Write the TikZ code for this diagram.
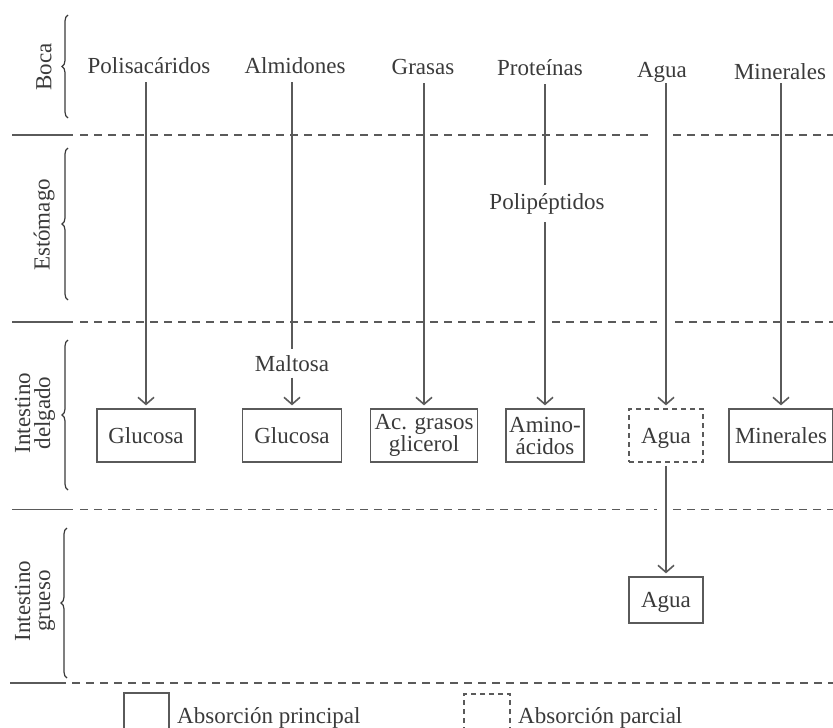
\documentclass[tikz,border=0pt]{standalone}
\usepackage{fontspec}
\setmainfont{Liberation Serif}
\usetikzlibrary{arrows.meta,decorations.pathreplacing}
\definecolor{ink}{HTML}{3A3A3A}
\definecolor{rulegray}{HTML}{5A5A5A}
\begin{document}
\begin{tikzpicture}[x=1pt,y=-1pt,
  every node/.style={text=ink, font=\fontsize{23}{20}\selectfont},
  lbl/.style={inner sep=0pt, anchor=base},
  box/.style={draw=rulegray, line width=1.3pt, minimum height=53pt, inner sep=0pt, align=center,
    font=\fontsize{23}{22}\selectfont},
  partial/.style={box, dash pattern=on 5pt off 4pt},
  flow/.style={draw=rulegray, line width=1.4pt, -{Straight Barb[length=7pt,width=16pt,line width=1.6pt]}, shorten >=3pt},
  stem/.style={draw=rulegray, line width=1.4pt},
  sep/.style={draw=rulegray, line width=1.4pt, dash pattern=on 8pt off 6pt},
  sepsolid/.style={draw=rulegray, line width=1.4pt},
  brc/.style={draw=ink, line width=1.2pt, decorate, decoration={brace, amplitude=6pt}},
  zone/.style={rotate=90, align=center, inner sep=0pt}
]
\clip (0,0) rectangle (833,728);

% horizontal separators between the regions
\foreach \yy in {135,322,509.5} \draw[sepsolid] (12,\yy) -- (73,\yy);
\draw[sepsolid] (10,683) -- (66,683);
\draw[sep] (80,135) -- (653,135);
\draw[sep] (673,135) -- (833,135);
\draw[sep] (80,322) -- (535,322);
\draw[sep] (552,322) -- (657,322);
\draw[sep] (675,322) -- (833,322);
\draw[sep] (80,509.5) -- (657,509.5);
\draw[sep] (673,509.5) -- (833,509.5);
\draw[sep] (72,683) -- (833,683);

% region names with braces
\node[zone] (zboca) at (44,67) {Boca};
\node[zone] (zest) at (44,225) {Estómago};
\node[zone] (zdel) at (35,413) {Intestino\\delgado};
\node[zone] (zgru) at (35,601) {Intestino\\grueso};
\draw[brc] (68,118) -- (68,15);
\draw[brc] (68,300) -- (68,148);
\draw[brc] (68,490) -- (68,340);
\draw[brc] (67,678) -- (67,528);

% nutrients entering by the mouth
\node[lbl] (t1) at (149,73) {Polisacáridos};
\node[lbl] (t2) at (295,73) {Almidones};
\node[lbl] (t3) at (423,74) {Grasas};
\node[lbl] (t4) at (540,75) {Proteínas};
\node[lbl] (t5) at (662,77) {Agua};
\node[lbl] (t6) at (780,79) {Minerales};

% intermediate products
\node[inner sep=0pt, minimum height=37pt] (pp) at (547,203.5) {Polipéptidos};
\node[inner sep=0pt, minimum height=28pt] (mal) at (292,363.5) {Maltosa};

% absorbed products in the small intestine
\node[box, minimum width=98pt] (b1) at (146,435.5) {Glucosa};
\node[box, minimum width=99pt] (b2) at (292,435.5) {Glucosa};
\node[box, minimum width=107pt] (b3) at (424,435.5) {Ac. grasos\\glicerol};
\node[box, minimum width=78pt] (b4) at (545,435.5) {Amino-\\ácidos};
\node[partial, minimum width=74pt, text depth=0pt] (b5) at (666,435.5) {Agua};
\node[box, minimum width=104pt] (b6) at (781,435.5) {Minerales};

% absorbed in the large intestine
\node[box, minimum width=74pt, minimum height=46pt, text depth=0pt] (b7) at (666,600) {Agua};

% digestion paths
\draw[flow, shorten <=9pt] (t1.base -| b1.north) -- (b1.north);
\draw[stem, shorten <=9pt] (t2.base -| mal.north) -- (mal.north);
\draw[flow] (mal.south) -- (b2.north);
\draw[flow, shorten <=9pt] (t3.base -| b3.north) -- (b3.north);
\draw[stem, shorten <=9pt] (t4.base -| b4.north) -- (b4.north |- pp.north);
\draw[flow] (b4.north |- pp.south) -- (b4.north);
\draw[flow, shorten <=6pt] (t5.base -| b5.north) -- (b5.north);
\draw[flow, shorten <=4pt] (t6.base -| b6.north) -- (b6.north);
\draw[flow, shorten <=3pt] (b5.south) -- (b7.north);

% legend
\node[box, minimum width=45pt, minimum height=46pt] (lgp) at (146.5,716) {};
\node[anchor=base west, inner sep=0pt] (lgpt) at (177,723) {Absorción principal};
\node[partial, minimum width=46pt, minimum height=46pt] (lgq) at (487,717) {};
\node[anchor=base west, inner sep=0pt] (lgqt) at (518,723) {Absorción parcial};
\end{tikzpicture}
\end{document}
